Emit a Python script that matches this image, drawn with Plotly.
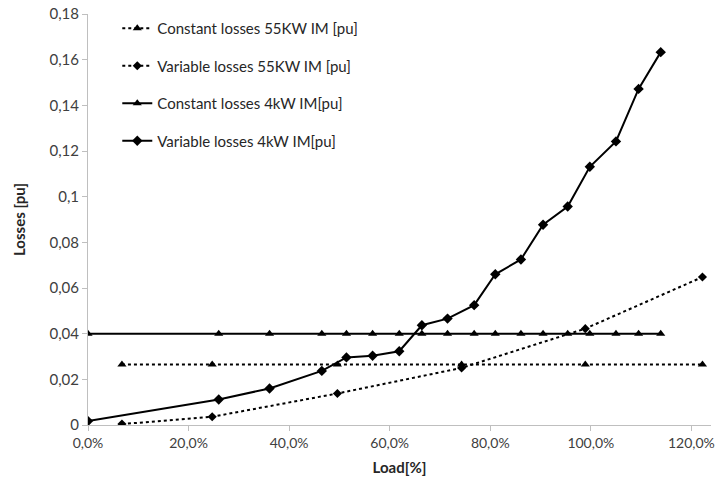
import plotly.graph_objects as go

# Load points (per unit) and losses (pu)
load_55kw = [0.0675, 0.247, 0.496, 0.743, 0.989, 1.222]
const_55kw = [0.0265, 0.0265, 0.0265, 0.0265, 0.0265, 0.0265]
var_55kw = [0.0004, 0.0036, 0.0138, 0.025, 0.0422, 0.0648]

load_4kw = [0.0, 0.26, 0.361, 0.465, 0.514, 0.566, 0.619, 0.664, 0.715,
            0.768, 0.81, 0.861, 0.905, 0.954, 0.998, 1.05, 1.095, 1.139]
const_4kw = [0.04] * len(load_4kw)
var_4kw = [0.0017, 0.0112, 0.016, 0.0237, 0.0296, 0.0303, 0.0323, 0.0437,
           0.0466, 0.0525, 0.066, 0.0725, 0.0877, 0.0957, 0.1131, 0.1242,
           0.1472, 0.1633]

y_ticks = [0, 0.02, 0.04, 0.06, 0.08, 0.1, 0.12, 0.14, 0.16, 0.18]
y_ticktext = ["0", "0,02", "0,04", "0,06", "0,08", "0,1", "0,12", "0,14", "0,16", "0,18"]
x_ticks = [0, 0.2, 0.4, 0.6, 0.8, 1.0, 1.2]
x_ticktext = ["0,0%", "20,0%", "40,0%", "60,0%", "80,0%", "100,0%", "120,0%"]

FONT = "Lato"
ink = "black"

series = [
    ("Constant losses 55KW IM [pu]", load_55kw, const_55kw, "dot", "triangle-up", 8),
    ("Variable losses 55KW IM [pu]", load_55kw, var_55kw, "dot", "diamond", 7),
    ("Constant losses 4kW IM[pu]", load_4kw, const_4kw, "solid", "triangle-up", 8),
    ("Variable losses 4kW IM[pu]", load_4kw, var_4kw, "solid", "diamond", 8),
]

fig = go.Figure()
for i, (name, xs, ys, dash, sym, size) in enumerate(series):
    fig.add_trace(go.Scatter(
        x=xs, y=ys, name=name, mode="lines+markers",
        legendgroup=f"g{i}",
        line=dict(color=ink, width=2, dash=dash),
        marker=dict(color=ink, symbol=sym, size=size),
    ))

axis_grey = "#bfbfbf"
title_font = dict(family=FONT, size=15, color="#262626")
fig.update_layout(
    width=719, height=484,
    margin=dict(l=88, r=4, t=13, b=59),
    paper_bgcolor="white", plot_bgcolor="white",
    font=dict(family=FONT, size=15, color="#404040"),
    showlegend=True,
    legend=dict(
        x=0.047, y=1.005, xanchor="left", yanchor="top",
        bgcolor="rgba(0,0,0,0)", traceorder="grouped", tracegroupgap=15,
        font=dict(family=FONT, size=15, color="#262626"),
        itemwidth=30,
    ),
    xaxis=dict(
        range=[0, 1.239], tickvals=x_ticks, ticktext=x_ticktext,
        tickfont=dict(family=FONT, size=14, color="#404040"),
        ticklabeloverflow="allow",
        showgrid=False, zeroline=False, showline=True, linecolor=axis_grey,
        linewidth=1, ticks="outside", ticklen=5, tickcolor=axis_grey,
        title=dict(text="<b>Load[%]</b>", font=title_font, standoff=12),
    ),
    yaxis=dict(
        range=[0, 0.18], tickvals=y_ticks, ticktext=y_ticktext,
        showgrid=False, zeroline=False, showline=True, linecolor=axis_grey,
        linewidth=1, ticks="outside", ticklen=5, tickcolor=axis_grey,
        title=dict(text="<b>Losses [pu]</b>", font=title_font, standoff=20),
    ),
)

fig.write_html("out.html")
